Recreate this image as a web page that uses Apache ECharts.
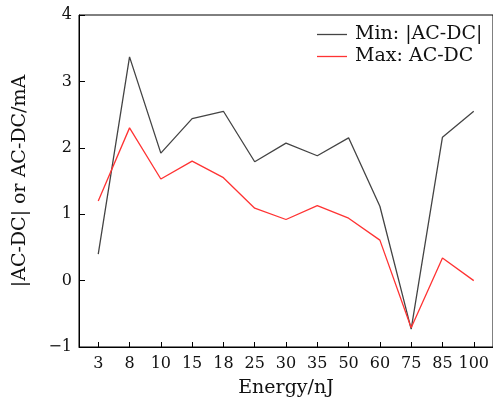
<!DOCTYPE html>
<html>
<head>
<meta charset="utf-8">
<script src="https://cdn.jsdelivr.net/npm/echarts@6/dist/echarts.min.js"></script>
<style>html,body{margin:0;padding:0;background:#fff}#c{width:493px;height:403px}</style>
</head>
<body>
<div id="c"></div>
<script>
const categories = ['3','8','10','15','18','25','30','35','50','60','75','85','100'];
const minAbs = [0.40, 3.37, 1.92, 2.44, 2.55, 1.79, 2.07, 1.88, 2.15, 1.12, -0.73, 2.16, 2.55];
const maxAcDc = [1.20, 2.30, 1.53, 1.80, 1.55, 1.09, 0.92, 1.13, 0.94, 0.61, -0.71, 0.34, 0.00];
const yTicks = [-1, 0, 1, 2, 3, 4];
const seriesNames = ['Min: |AC-DC|', 'Max: AC-DC'];

const font = 'DejaVu Serif';
const idx = categories.map((c, i) => i);
const chart = echarts.init(document.getElementById('c'), null, {renderer: 'canvas'});
chart.setOption({
  animation: false,
  backgroundColor: '#fff',
  grid: {left: 79, top: 15, width: 415, bottom: 55, show: true, borderColor: '#000', borderWidth: 1, backgroundColor: 'transparent'},
  legend: {
    left: 312, top: 20, orient: 'vertical', itemWidth: 30, itemHeight: 1.3, itemGap: 3,
    icon: 'rect',
    textStyle: {fontFamily: font, fontSize: 19, color: '#111', padding: [0, 0, 0, 3]},
    data: seriesNames
  },
  xAxis: {
    type: 'value', min: -0.615, max: 12.615,
    name: 'Energy/nJ', nameLocation: 'middle', nameGap: 32,
    nameTextStyle: {fontFamily: font, fontSize: 19, color: '#111'},
    axisLine: {onZero: false, lineStyle: {color: '#000', width: 1}},
    axisTick: {inside: true, length: 5, customValues: idx, lineStyle: {color: '#000'}},
    axisLabel: {customValues: idx, formatter: v => categories[Math.round(v)] ?? '', fontFamily: font, fontSize: 16, color: '#111', margin: 9},
    splitLine: {show: false}
  },
  yAxis: {
    type: 'value', min: -1, max: 4, interval: 1,
    name: '|AC-DC| or AC-DC/mA', nameLocation: 'middle', nameGap: 49,
    nameTextStyle: {fontFamily: font, fontSize: 19, color: '#111'},
    axisLine: {show: true, onZero: false, lineStyle: {color: '#000', width: 1}},
    axisTick: {show: true, inside: true, length: 6, lineStyle: {color: '#000'}},
    axisLabel: {formatter: v => (v < 0 ? '\u2212' + Math.abs(v) : String(v)), fontFamily: font, fontSize: 16, color: '#111', margin: 7},
    splitLine: {show: false}
  },
  series: [
    {name: seriesNames[0], type: 'line', symbol: 'none', data: minAbs.map((v, i) => [i, v]),
     lineStyle: {color: '#444', width: 1.3}, itemStyle: {color: '#444'}},
    {name: seriesNames[1], type: 'line', symbol: 'none', data: maxAcDc.map((v, i) => [i, v]),
     lineStyle: {color: '#f33', width: 1.3}, itemStyle: {color: '#f33'}}
  ]
});
</script>
</body>
</html>
